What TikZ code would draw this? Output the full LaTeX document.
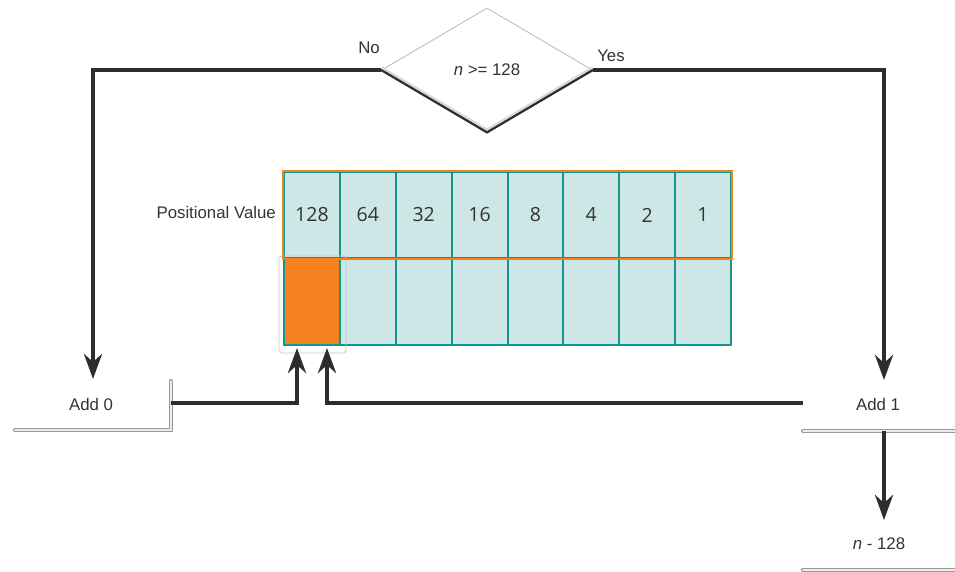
\documentclass[tikz,border=0pt]{standalone}
\usepackage{fontspec}
\setmainfont{Liberation Sans}
\newfontfamily\numfont{Open Sans}
\usetikzlibrary{arrows.meta,shapes.geometric}
\definecolor{linec}{HTML}{2D2D2D}
\definecolor{cellfill}{HTML}{CDE7E6}
\definecolor{celledge}{HTML}{13978C}
\definecolor{orangec}{HTML}{F5821F}
\definecolor{txt}{HTML}{333333}
\tikzset{
  conn/.style={line width=4.2pt, draw=linec, -{Stealth[length=25pt,width=18pt,inset=8pt]}},
  graybar/.style={draw=gray!80, line width=1.2pt, double=gray!15, double distance=1.8pt, line cap=round},
  lbl/.style={font=\fontsize{16.8}{20}\selectfont, text=txt, inner sep=0pt},
  cell/.style={draw=celledge, line width=2pt, fill=cellfill, minimum width=55.875pt, minimum height=86pt, inner sep=0pt, font=\numfont\fontsize{19.5}{22}\selectfont, text=txt},
}
\begin{document}
\begin{tikzpicture}[x=1pt,y=-1pt]
\useasboundingbox (0,0) rectangle (955,572);

% decision diamond
\node[diamond, draw=gray!55, line width=0.8pt, fill=white, minimum width=211pt, minimum height=124pt, inner sep=0pt, lbl] (dec) at (487,70) {\textit{n} >= 128};
\draw[line width=3.5pt, draw=gray!30] ([yshift=2pt]dec.west) -- ([yshift=2pt]dec.south) -- ([yshift=2pt]dec.east);
\draw[line width=2.2pt, draw=linec] (dec.west) -- (dec.south) -- (dec.east);
\node[lbl] (no) at (369,48) {No};
\node[lbl] (yes) at (611,56) {Yes};

% table
\foreach \i/\v in {1/128,2/64,3/32,4/16,5/8,6/4,7/2,8/1}{
  \node[cell] (t\i) at ({284+55.875*(\i-0.5)},215) {\v};
  \node[cell] (b\i) at ({284+55.875*(\i-0.5)},302) {};
}
\draw[rounded corners=3pt, draw=gray!45, line width=0.8pt] (279,256) rectangle (346,353);
\node[cell, fill=orangec] (sel) at (b1) {};
\draw[draw=orangec, line width=2.4pt] (t1.north west) rectangle (t8.south east);
\node[lbl, anchor=east] (pv) at (276,212) {Positional Value};

% labels
\node[lbl] (add0) at (91,404) {Add 0};
\node[lbl] (add1) at (878,404) {Add 1};
\node[lbl] (sub) at (879,544) {\textit{n} - 128};

% bars
\draw[graybar] (15,430) -- (171,430) -- (171,381);
\draw[graybar] (803,431) -- (958,431);
\draw[graybar] (803,570) -- (958,570);

% coordinates
\coordinate (a0in) at (93,379);
\coordinate (a1in) at (884,380);
\coordinate (b0) at (171,403);
\coordinate (b1o) at (803,403);
\coordinate (up1) at (297,348);
\coordinate (up2) at (327,348);
\coordinate (a1bar) at (884,431);
\coordinate (subin) at (884,520);

% connectors
\draw[conn] (dec.west) -| (a0in);
\draw[conn] (dec.east) -| (a1in);
\draw[conn] (b0) -| (up1);
\draw[conn] (b1o) -| (up2);
\draw[conn] (a1bar) -- (subin);
\end{tikzpicture}
\end{document}
